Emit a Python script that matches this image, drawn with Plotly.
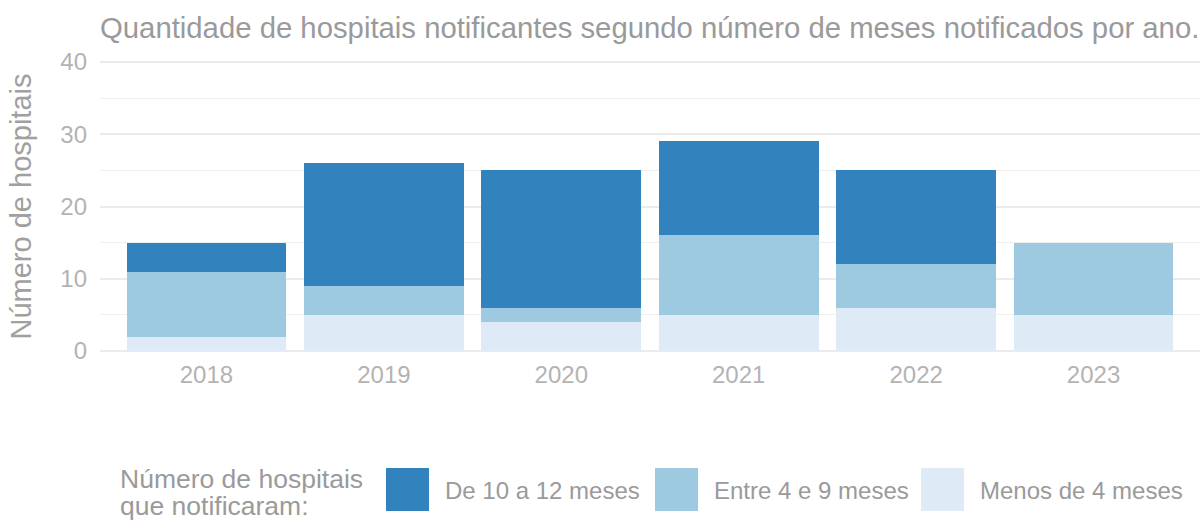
import plotly.graph_objects as go

# Dados: hospitais notificantes por ano, segundo número de meses notificados
anos = ["2018", "2019", "2020", "2021", "2022", "2023"]
menos_4 = [2, 5, 4, 5, 6, 5]
entre_4_9 = [9, 4, 2, 11, 6, 10]
de_10_12 = [4, 17, 19, 13, 13, 0]

series = [
    ("Menos de 4 meses", menos_4, "#deebf7"),
    ("Entre 4 e 9 meses", entre_4_9, "#9ecae1"),
    ("De 10 a 12 meses", de_10_12, "#3182bd"),
]

W, H = 1200, 520
M_L, M_R, M_T, M_B = 100, 0, 58, 165
PLOT_H = H - M_T - M_B
FONT = "Liberation Sans, Arial, sans-serif"

fig = go.Figure()
for nome, valores, cor in series:
    fig.add_trace(go.Bar(
        x=anos, y=valores, name=nome,
        marker=dict(color=cor, line=dict(width=0)),
        showlegend=False,
        hovertemplate="%{x}: %{y}<extra>" + nome + "</extra>",
    ))


def py(pix):
    """Pixel row -> paper y coordinate."""
    return (H - M_B - pix) / PLOT_H


def px(pix):
    """Pixel column -> paper x coordinate."""
    return (pix - M_L) / (W - M_L - M_R)


# Legenda manual (chaves grandes, ao estilo do ggplot)
legenda = [
    ("De 10 a 12 meses", "#3182bd", 386, 443),
    ("Entre 4 e 9 meses", "#9ecae1", 655, 712),
    ("Menos de 4 meses", "#deebf7", 921, 978),
]
shapes = []
annotations = []
for texto, cor, x0, xt in legenda:
    shapes.append(dict(
        type="rect", xref="paper", yref="paper",
        x0=px(x0), x1=px(x0 + 43), y0=py(511), y1=py(468),
        fillcolor=cor, line=dict(width=0), layer="above",
    ))
    annotations.append(dict(
        text=texto, xref="paper", yref="paper",
        x=px(xt), y=py(490), xanchor="left", yanchor="middle",
        showarrow=False, font=dict(family=FONT, size=24, color="#9a9a9a"),
    ))

# Título da legenda em duas linhas, com entrelinha compacta
for linha, ycentro in (("Número de hospitais", 479), ("que notificaram:", 506)):
    annotations.append(dict(
        text=linha, xref="paper", yref="paper",
        x=px(118), y=py(ycentro), xanchor="left", yanchor="middle", align="left",
        showarrow=False, font=dict(family=FONT, size=26.5, color="#9a9a9a"),
    ))

fig.update_layout(
    width=W, height=H,
    margin=dict(l=M_L, r=M_R, t=M_T, b=M_B),
    paper_bgcolor="white", plot_bgcolor="white",
    barmode="stack", bargap=0.1,
    font=dict(family=FONT, color="#9a9a9a"),
    title=dict(
        text="Quantidade de hospitais notificantes segundo número de meses notificados por ano.",
        x=0, xref="paper", xanchor="left",
        y=1 - 28 / H, yref="container", yanchor="middle",
        font=dict(family=FONT, size=29.3, color="#9a9a9a"),
    ),
    xaxis=dict(
        range=[-0.6, 5.6],
        showgrid=False, zeroline=False, showline=False, ticks="",
        tickfont=dict(family=FONT, size=24, color="#b3b3b3"),
        ticklabelstandoff=3,
    ),
    yaxis=dict(
        range=[-4 / 7.225, 40 + 4 / 7.225],
        tickvals=[0, 10, 20, 30, 40],
        showgrid=True, gridcolor="#ebebeb", gridwidth=2,
        minor=dict(tickvals=[5, 15, 25, 35], showgrid=True, gridcolor="#efefef", gridwidth=1),
        zeroline=False, showline=False, ticks="",
        tickfont=dict(family=FONT, size=24, color="#b3b3b3"),
        ticklabelstandoff=12,
        title=dict(text="Número de hospitais", standoff=20,
                   font=dict(family=FONT, size=29, color="#a0a0a0")),
    ),
    shapes=shapes,
    annotations=annotations,
)

fig.write_html("out.html")
